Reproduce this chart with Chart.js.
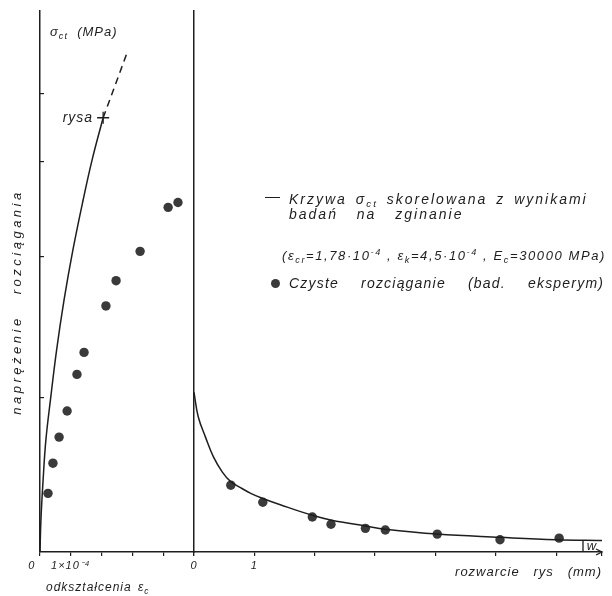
<!DOCTYPE html>
<html><head><meta charset="utf-8">
<script src="https://cdn.jsdelivr.net/npm/chart.js@4/dist/chart.umd.min.js"></script>
<style>
html,body{margin:0;padding:0;background:#fff;}
#wrap{position:relative;width:612px;height:596px;overflow:hidden;background:#fff;}
canvas{position:absolute;left:0;top:0;}
.t{position:absolute;font-family:"Liberation Sans",sans-serif;font-style:italic;color:#1e1e1e;white-space:nowrap;letter-spacing:1px;line-height:1;}
.t sub{font-size:70%;vertical-align:-3px;line-height:0;}
.t sup{font-size:70%;vertical-align:5px;line-height:0;}
</style></head><body>
<div id="wrap">
<canvas id="cL" width="612" height="596"></canvas>
<canvas id="cR" width="612" height="596"></canvas>

<div class="t" style="left:50px;top:25px;font-size:13px;">σ<sub>ct</sub>&nbsp; (MPa)</div>
<div class="t" style="left:46px;top:581px;font-size:12px;word-spacing:2px;">odkształcenia ε<sub>c</sub></div>
<div class="t" style="left:-112px;top:294px;width:260px;height:16px;text-align:center;font-size:13px;letter-spacing:3.5px;word-spacing:14px;transform:rotate(-90deg);transform-origin:130px 8px;">naprężenie rozciągania</div>

<div style="position:absolute;left:265px;top:197px;width:15px;height:0;border-top:1.5px solid #1e1e1e;"></div>
<div class="t" style="left:289px;top:192px;font-size:14px;letter-spacing:2px;word-spacing:3px;">Krzywa σ<sub>ct</sub> skorelowana z wynikami</div>
<div class="t" style="left:289px;top:207px;font-size:14px;letter-spacing:2px;word-spacing:13px;">badań na zginanie</div>
<div class="t" style="left:282px;top:249px;font-size:13px;letter-spacing:1.6px;">(ε<sub>cr</sub>=1,78·10<sup>-4</sup> , ε<sub>k</sub>=4,5·10<sup>-4</sup> , E<sub>c</sub>=30000 MPa)</div>
<div style="position:absolute;left:271px;top:279px;width:9px;height:9px;border-radius:50%;background:#3a3a3a;"></div>
<div class="t" style="left:289px;top:276px;font-size:14px;letter-spacing:1.2px;word-spacing:17px;">Czyste rozciąganie (bad. eksperym)</div>
</div>

<script>
// ---- data (σ in MPa, ε in units of 1e-4, w in mm) ----
const yMax = 6.64;
const yTicks = [1.89, 3.62, 4.79, 5.63];

// left panel: σ–ε curve (solid up to crack), dashed continuation, crack point
const curveEps = [0, 0.03, 0.10, 0.19, 0.34, 0.54, 0.78, 1.07, 1.40, 1.69, 2.05];
const curveSig = [0, 0.39, 0.88, 1.37, 1.87, 2.48, 3.09, 3.71, 4.32, 4.81, 5.33];
const dashEps = [2.05, 2.82];
const dashSig = [5.33, 6.12];
const rysaEps = [2.05];
const rysaSig = [5.33];
// left panel: experimental points (pure tension)
const expEps = [0.26, 0.42, 0.62, 0.88, 1.20, 1.43, 2.14, 2.47, 3.25, 4.16, 4.48];
const expSig = [0.72, 1.09, 1.41, 1.73, 2.18, 2.45, 3.02, 3.33, 3.69, 4.23, 4.29];

// right panel: σ–w softening curve and experimental points
const softW   = [0, 0.07, 0.19, 0.32, 0.47, 0.60, 0.77, 0.94, 1.13, 1.43, 1.96, 2.28, 2.84, 3.17, 4.03, 5.07, 6.00, 6.76];
const softSig = [1.96, 1.66, 1.41, 1.17, 0.98, 0.87, 0.79, 0.72, 0.66, 0.58, 0.45, 0.39, 0.32, 0.28, 0.22, 0.18, 0.15, 0.14];
const expW    = [0.61, 1.14, 1.96, 2.27, 2.84, 3.17, 4.03, 5.07, 6.05];
const expWSig = [0.82, 0.61, 0.43, 0.34, 0.29, 0.27, 0.22, 0.15, 0.17];

const INK = '#1e1e1e';
const DOT = '#3a3a3a';
const FAM = '"Liberation Sans", sans-serif';
Chart.defaults.font.family = FAM;
Chart.defaults.color = INK;

const pts = (xs, ys) => xs.map((x, i) => ({x, y: ys[i]}));
const spacing = { id: 'spacing', beforeDraw(c) { c.ctx.letterSpacing = '1px'; } };

new Chart(document.getElementById('cL'), {
  type: 'scatter',
  data: { datasets: [
    { type: 'line', label: 'Krzywa σct', data: pts(curveEps, curveSig), borderColor: INK, borderWidth: 1.5,
      pointRadius: 0, tension: 0.4, fill: false },
    { type: 'line', label: 'Krzywa σct (po rysie)', data: pts(dashEps, dashSig), borderColor: INK, borderWidth: 1.5,
      borderDash: [7, 5], pointRadius: 0, fill: false },
    { label: 'rysa', data: pts(rysaEps, rysaSig), pointStyle: 'cross', pointRadius: 6,
      borderColor: INK, borderWidth: 1.3 },
    { label: 'Czyste rozciąganie', data: pts(expEps, expSig), pointRadius: 4.7,
      backgroundColor: DOT, borderColor: DOT, borderWidth: 0 }
  ]},
  options: {
    responsive: false, animation: false,
    layout: { padding: { left: 0, right: 418, top: 11, bottom: 0 } },
    plugins: { legend: { display: false }, tooltip: { enabled: false } },
    scales: {
      x: { type: 'linear', min: 0, max: 5,
        afterFit(s) { s.height = 44; },
        ticks: { stepSize: 1, autoSkip: false, maxRotation: 0, padding: 3,
          font: { size: 11, style: 'italic' },
          callback: v => v === 0 ? '0    ' : (v === 1 ? '1×10⁻⁴' : '') },
        grid: { drawOnChartArea: false, drawTicks: true, tickLength: 4, color: INK, lineWidth: 1.2 },
        border: { color: INK, width: 1.5 } },
      y: { type: 'linear', min: 0, max: yMax,
        afterFit(s) { s.width = 40; },
        afterBuildTicks(s) { s.ticks = yTicks.map(v => ({ value: v })); },
        ticks: { display: false },
        grid: { drawOnChartArea: false, drawTicks: true, tickLength: -4, color: INK, lineWidth: 1.2 },
        border: { color: INK, width: 1.5 } }
    }
  },
  plugins: [spacing, {
    id: 'rysaLabel',
    afterDatasetsDraw(c) {
      const x = c.scales.x.getPixelForValue(rysaEps[0]);
      const y = c.scales.y.getPixelForValue(rysaSig[0]);
      const ctx = c.ctx;
      ctx.save();
      ctx.font = 'italic 14px ' + FAM;
      ctx.fillStyle = INK;
      ctx.textAlign = 'right';
      ctx.textBaseline = 'middle';
      ctx.fillText('rysa', x - 10, y);
      ctx.restore();
    }
  }]
});

new Chart(document.getElementById('cR'), {
  type: 'scatter',
  data: { datasets: [
    { type: 'line', label: 'Krzywa σct', data: pts(softW, softSig), borderColor: INK, borderWidth: 1.5,
      pointRadius: 0, tension: 0.4, fill: false },
    { label: 'Czyste rozciąganie', data: pts(expW, expWSig), pointRadius: 4.7,
      backgroundColor: DOT, borderColor: DOT, borderWidth: 0 }
  ]},
  options: {
    responsive: false, animation: false,
    layout: { padding: { left: 0, right: 10, top: 11, bottom: 16 } },
    plugins: { legend: { display: false }, tooltip: { enabled: false } },
    scales: {
      x: { type: 'linear', min: 0, max: 6.76,
        afterFit(s) { s.height = 28; },
        ticks: { stepSize: 1, autoSkip: false, maxRotation: 0, padding: 3,
          font: { size: 11, style: 'italic' },
          callback: v => v === 0 ? '0' : (v === 1 ? '1' : '') },
        grid: { drawOnChartArea: false, drawTicks: true, tickLength: 4, color: INK, lineWidth: 1.2 },
        border: { color: INK, width: 1.5 },
        title: { display: true, text: 'rozwarcie   rys   (mm)', align: 'end', padding: 0,
          font: { size: 13, style: 'italic' }, color: INK } },
      y: { type: 'linear', min: 0, max: yMax,
        afterFit(s) { s.width = 194; },
        afterBuildTicks(s) { s.ticks = []; },
        ticks: { display: false },
        grid: { drawOnChartArea: false, drawTicks: false, color: INK },
        border: { color: INK, width: 1.5 } }
    }
  },
  plugins: [spacing, {
    id: 'arrowW',
    afterDraw(c) {
      const xs = c.scales.x, ys = c.scales.y;
      const x = xs.right, y = ys.bottom;
      const ctx = c.ctx;
      ctx.save();
      ctx.strokeStyle = INK; ctx.lineWidth = 1.3;
      ctx.beginPath();
      ctx.moveTo(x - 6, y - 3); ctx.lineTo(x, y); ctx.lineTo(x - 6, y + 3);
      ctx.moveTo(x - 19, y - 11); ctx.lineTo(x - 19, y);
      ctx.stroke();
      ctx.font = 'italic 13px ' + FAM;
      ctx.fillStyle = INK; ctx.textAlign = 'center'; ctx.textBaseline = 'middle';
      ctx.fillText('w', x - 10, y - 6);
      ctx.restore();
    }
  }]
});
</script>
</body></html>
